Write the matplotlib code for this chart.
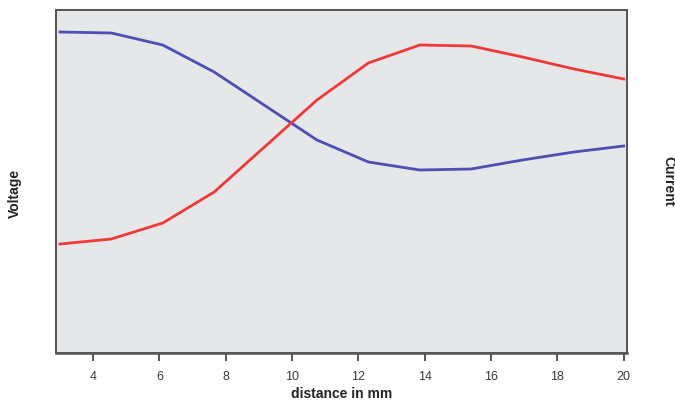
import matplotlib
matplotlib.use("Agg")
import matplotlib.pyplot as plt

plt.rcParams['font.family'] = ['Liberation Sans', 'DejaVu Sans']

distance = [3.0, 4.55, 6.1, 7.65, 9.2, 10.75, 12.3, 13.85, 15.4, 16.95, 18.5, 20.0]
voltage = [321, 320, 308, 281, 247, 213, 191, 183, 184, 193, 201, 207]
current = [109, 114, 130, 161, 207, 253, 290, 308, 307, 296, 284, 274]
xticks = [4, 6, 8, 10, 12, 14, 16, 18, 20]

fig = plt.figure(figsize=(6.75, 4.05), dpi=100)
ax = fig.add_axes([56/675, 52/405, 571/675, 343/405])
ax.set_facecolor('#e6e7e9')
ax.plot(distance, voltage, color='#4e4eb4', lw=2.0)
ax2 = ax.twinx()
ax2.plot(distance, current, color='#f03a3a', lw=2.0)

for a in (ax, ax2):
    a.set_ylim(0, 343)
    a.set_yticks([])
    a.set_xlim(2.88, 20.1)
    for s in a.spines.values():
        s.set_color('#555555')
        s.set_linewidth(1.3)
ax.spines['bottom'].set_linewidth(1.8)

ax.set_xticks(xticks)
ax.set_xticklabels([str(t) for t in xticks])
ax.tick_params(axis='x', direction='out', length=6, width=1.4, color='#555555',
               labelsize=9, labelcolor='#3a3a3a', pad=7)

ax.set_xlabel('distance in mm', fontsize=10, fontweight='bold', color='#222222', labelpad=3)
fig.text(15/675, 1 - 193/405, 'Voltage', rotation=90, ha='center', va='center',
         fontsize=10, fontweight='bold', color='#222222')
fig.text(668/675, 1 - 181/405, 'Current', rotation=270, ha='center', va='center',
         fontsize=10, fontweight='bold', color='#222222')

fig.savefig('out.png', dpi=100)
